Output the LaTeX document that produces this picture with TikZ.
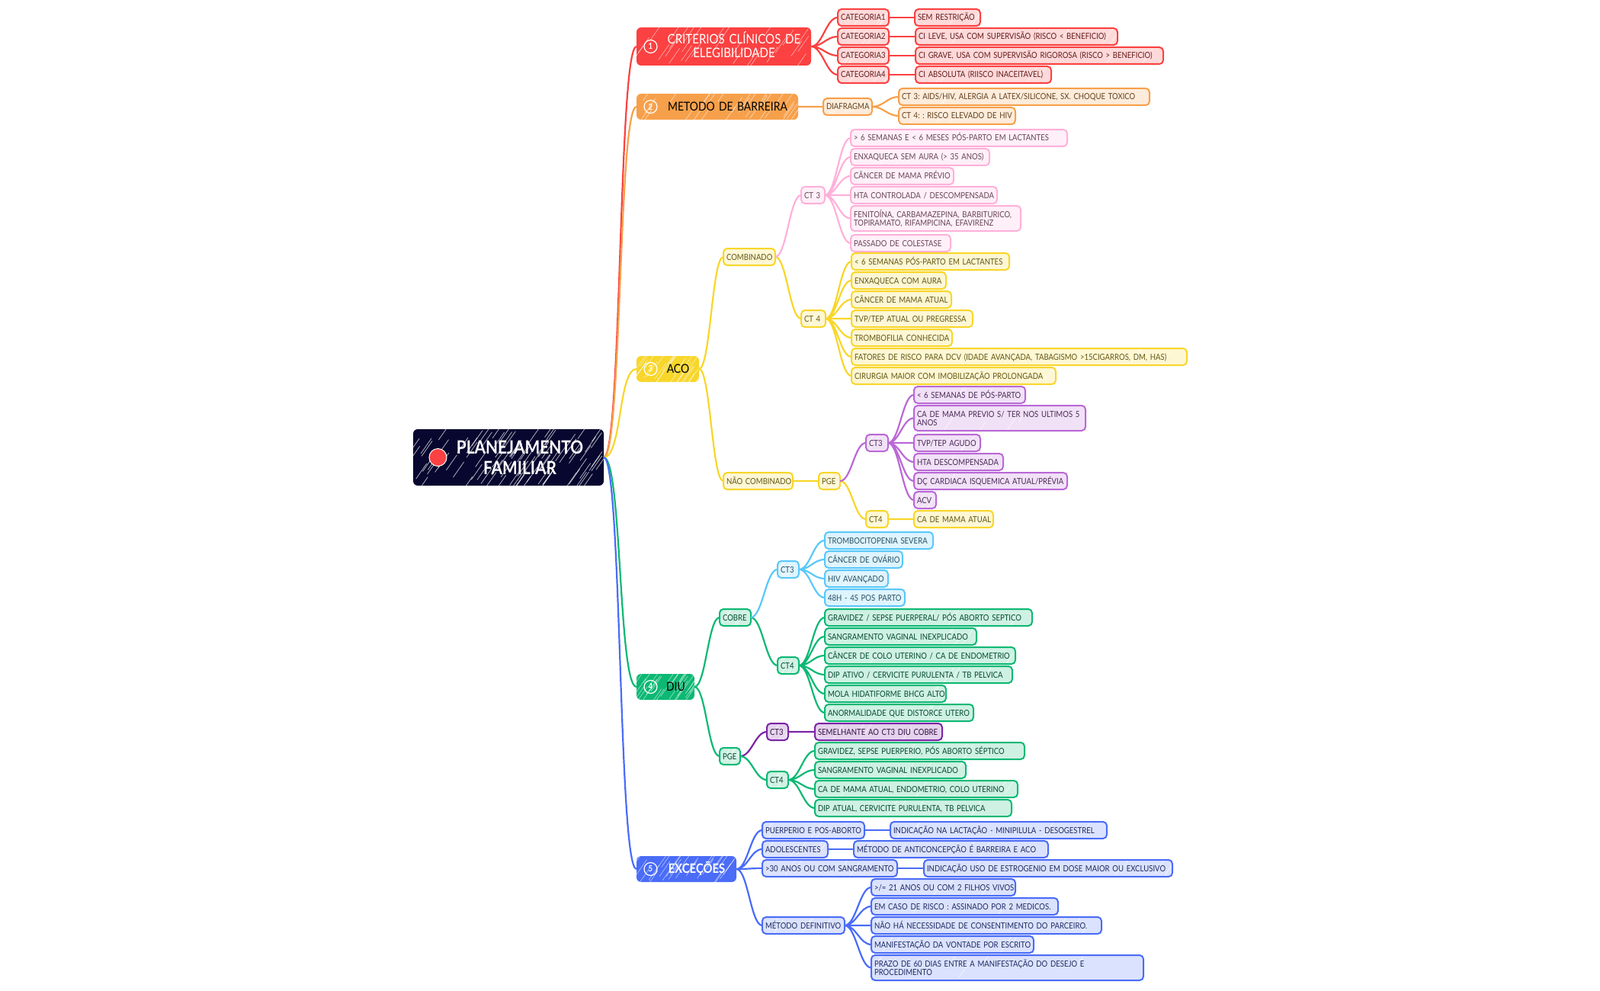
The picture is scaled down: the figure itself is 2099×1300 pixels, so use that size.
\documentclass[tikz,border=0pt]{standalone}
\usepackage{fontspec}
\setmainfont{Lato}[FakeStretch=0.87]
\usetikzlibrary{positioning, calc}
\usepackage{xcolor}
\definecolor{navy}{HTML}{07072F}
\definecolor{cred}{HTML}{FB4141}
\definecolor{corange}{HTML}{F7A04B}
\definecolor{cpink}{HTML}{FFB0DA}
\definecolor{cyellow}{HTML}{F8D62A}
\definecolor{cviolet}{HTML}{BA68D6}
\definecolor{cdeep}{HTML}{7B24A6}
\definecolor{csky}{HTML}{5AC8FA}
\definecolor{cgreen}{HTML}{0CB873}
\definecolor{cblue}{HTML}{4A6CF7}

% white sketch streaks, clipped to the box
\newcommand{\sketchstreaks}[3]{%
  \coordinate (hsw) at (path picture bounding box.south west);
  \coordinate (hne) at (path picture bounding box.north east);
  \foreach \hi in {1,...,#1}{
    \pgfmathsetmacro\hx{rnd}
    \pgfmathsetmacro\hy{rnd}
    \coordinate (hp) at ($(hsw)!\hx!(hne)$);
    \coordinate (hq) at ($(hsw)!\hy!(hne)$);
    \draw[white, opacity=#3, line width=#2] ($(hp |- hq)+(-6,-9)$) -- ++(14,20);
  }}

\begin{document}
\frenchspacing
\begin{tikzpicture}[
    x=1pt, y=1pt,
    every node/.style={font=\fontsize{11}{11}\selectfont, outer sep=0pt},
    boxw/.style={text width=#1pt-8pt},
    tint/.style={draw=#1, fill=#1!20!white, text=#1!40!black},
    leaf/.style={rounded corners=5pt, line width=2pt, minimum height=22pt, inner xsep=4pt, inner ysep=2pt,
        text height=8pt, text depth=0pt,
        execute at begin node={\rightskip=-100pt plus 1fil\parfillskip=0pt\hyphenpenalty=10000},
        path picture={\sketchstreaks{5}{.7pt}{.7}}},
    twolines/.style={minimum height=33pt, text depth=11pt},
    stacked/.style={below=3pt of #1.south west, anchor=north west},
    rootbox/.style={rounded corners=6pt, fill=navy, text=white, minimum height=74pt, text width=230pt, inner sep=10pt,
        font=\fontsize{24}{27}\selectfont\bfseries, text height=18pt, text depth=27pt,
        execute at begin node={\leftskip=30pt plus 1fil\rightskip=0pt plus 1fil\parfillskip=0pt},
        path picture={\sketchstreaks{90}{.7pt}{.75}}},
    topic/.style={rounded corners=6pt, fill=#1, text=black, minimum height=34pt, inner xsep=10pt, inner ysep=2pt,
        font=\fontsize{16}{18}\selectfont, text height=11.5pt, text depth=0pt,
        execute at begin node={\leftskip=27pt plus 1fil\rightskip=0pt plus 1fil\parfillskip=0pt},
        path picture={\sketchstreaks{30}{.6pt}{.6}}},
    topicw/.style={text width=#1pt-20pt},
    badge/.style={circle, draw=white, line width=1.2pt, text=white, minimum size=17pt, inner sep=0pt,
        font=\fontsize{11}{11}\selectfont\bfseries},
    link/.style={draw=#1, line width=2.2pt, out=0, in=180, distance=15pt},
    trunk/.style={draw=#1, line width=2.2pt, out=0, in=180, distance=24pt},
]
\useasboundingbox (0,0) rectangle (2099,-1300);

% root and the five main topics
\node[rootbox] (root) at (667,-600) {PLANEJAMENTO\par FAMILIAR};
\node[circle, fill=cred, draw=white, line width=1pt, minimum size=23pt, inner sep=0pt, right=21pt of root.west] (rootdot) {};

\node[topic=cred, topicw=229, right=43pt of root, yshift=539pt, text=white, text depth=18pt, minimum height=50pt, font=\fontsize{17.3}{18}\selectfont] (crit) {CRITERIOS CLÍNICOS DE\par ELEGIBILIDADE};
\node[topic=corange, topicw=212, right=43pt of root, yshift=460pt] (barrier) {METODO DE BARREIRA};
\node[topic=cyellow, topicw=82, right=43pt of root, yshift=116pt] (aco) {ACO};
\node[topic=cgreen, topicw=76, right=43pt of root, yshift=-301pt] (diu) {DIU};
\node[topic=cblue, topicw=131, right=43pt of root, yshift=-540pt, text=white, font=\fontsize{17}{18}\selectfont\bfseries] (exc) {EXCEÇÕES};

\node[badge, right=10pt of crit.west] (num1) {1};
\node[badge, right=10pt of barrier.west] (num2) {2};
\node[badge, right=10pt of aco.west] (num3) {3};
\node[badge, right=10pt of diu.west] (num4) {4};
\node[badge, right=10pt of exc.west] (num5) {5};

% criterios
\node[leaf, tint=cred, boxw=67, right=35pt of crit, yshift=38pt] (cat1) {CATEGORIA1};
\node[leaf, tint=cred, boxw=67, stacked=cat1] (cat2) {CATEGORIA2};
\node[leaf, tint=cred, boxw=67, stacked=cat2] (cat3) {CATEGORIA3};
\node[leaf, tint=cred, boxw=67, stacked=cat3] (cat4) {CATEGORIA4};
\node[leaf, tint=cred, boxw=86, right=34pt of cat1] (semres) {SEM RESTRIÇÃO};
\node[leaf, tint=cred, boxw=265, right=35pt of cat2] (cileve) {CI LEVE, USA COM SUPERVISÃO (RISCO < BENEFICIO)};
\node[leaf, tint=cred, boxw=325, right=35pt of cat3] (cigrave) {CI GRAVE, USA COM SUPERVISÃO RIGOROSA (RISCO > BENEFICIO)};
\node[leaf, tint=cred, boxw=178, right=35pt of cat4] (ciabs) {CI ABSOLUTA (RIISCO INACEITAVEL)};

% barreira
\node[leaf, tint=corange, boxw=64, right=33pt of barrier] (diaf) {DIAFRAGMA};
\node[leaf, tint=corange, boxw=329, right=35pt of diaf, yshift=13pt] (aids) {CT 3: AIDS/HIV, ALERGIA A LATEX/SILICONE, SX. CHOQUE TOXICO};
\node[leaf, tint=corange, boxw=153, stacked=aids] (riscohiv) {CT 4: : RISCO ELEVADO DE HIV};

% aco combinado
\node[leaf, tint=cyellow, boxw=68, right=32pt of aco, yshift=147pt] (comb) {COMBINADO};
\node[leaf, tint=cpink, boxw=31, right=34pt of comb, yshift=81pt] (ctpink) {CT 3};
\node[leaf, tint=cyellow, boxw=32, right=34pt of comb, yshift=-81pt] (ctyel) {CT 4};

\node[leaf, tint=cpink, boxw=284, right=34pt of ctpink, yshift=75pt] (pk1) {> 6 SEMANAS E < 6 MESES PÓS-PARTO EM LACTANTES};
\node[leaf, tint=cpink, boxw=182, stacked=pk1] (pk2) {ENXAQUECA SEM AURA (> 35 ANOS)};
\node[leaf, tint=cpink, boxw=135, stacked=pk2] (pk3) {CÂNCER DE MAMA PRÉVIO};
\node[leaf, tint=cpink, boxw=192, stacked=pk3] (pk4) {HTA CONTROLADA / DESCOMPENSADA};
\node[leaf, twolines, tint=cpink, boxw=223, stacked=pk4] (pk5) {FENITOÍNA, CARBAMAZEPINA, BARBITURICO,\\TOPIRAMATO, RIFAMPICINA, EFAVIRENZ};
\node[leaf, tint=cpink, boxw=131, stacked=pk5, yshift=-2pt] (pk6) {PASSADO DE COLESTASE};

\node[leaf, tint=cyellow, boxw=207, right=34pt of ctyel, yshift=75pt] (yl1) {< 6 SEMANAS PÓS-PARTO EM LACTANTES};
\node[leaf, tint=cyellow, boxw=124, stacked=yl1] (yl2) {ENXAQUECA COM AURA};
\node[leaf, tint=cyellow, boxw=131, stacked=yl2] (yl3) {CÂNCER DE MAMA ATUAL};
\node[leaf, tint=cyellow, boxw=159, stacked=yl3] (yl4) {TVP/TEP ATUAL OU PREGRESSA};
\node[leaf, tint=cyellow, boxw=132, stacked=yl4] (yl5) {TROMBOFILIA CONHECIDA};
\node[leaf, tint=cyellow, boxw=440, stacked=yl5] (yl6) {FATORES DE RISCO PARA DCV (IDADE AVANÇADA, TABAGISMO >15CIGARROS, DM, HAS)};
\node[leaf, tint=cyellow, boxw=268, stacked=yl6] (yl7) {CIRURGIA MAIOR COM IMOBILIZAÇÃO PROLONGADA};

% aco nao combinado
\node[leaf, tint=cyellow, boxw=91, right=32pt of aco, yshift=-147pt] (naocomb) {NÃO COMBINADO};
\node[leaf, tint=cyellow, boxw=28, right=34pt of naocomb] (pgeaco) {PGE};
\node[leaf, tint=cviolet, boxw=29, right=34pt of pgeaco, yshift=50pt] (ctvio) {CT3};
\node[leaf, tint=cyellow, boxw=29, right=34pt of pgeaco, yshift=-50pt] (ctyelb) {CT4};

\node[leaf, tint=cviolet, boxw=146, right=34pt of ctvio, yshift=63pt] (vi1) {< 6 SEMANAS DE PÓS-PARTO};
\node[leaf, twolines, tint=cviolet, boxw=225, stacked=vi1] (vi2) {CA DE MAMA PREVIO S/ TER NOS ULTIMOS 5\\ANOS};
\node[leaf, tint=cviolet, boxw=87, stacked=vi2, yshift=-2pt] (vi3) {TVP/TEP AGUDO};
\node[leaf, tint=cviolet, boxw=117, stacked=vi3] (vi4) {HTA DESCOMPENSADA};
\node[leaf, tint=cviolet, boxw=201, stacked=vi4] (vi5) {DÇ CARDIACA ISQUEMICA ATUAL/PRÉVIA};
\node[leaf, tint=cviolet, boxw=29, stacked=vi5] (vi6) {ACV};
\node[leaf, tint=cyellow, boxw=104, right=34pt of ctyelb] (camama) {CA DE MAMA ATUAL};

% diu cobre
\node[leaf, tint=cgreen, boxw=41, right=33pt of diu, yshift=91pt] (cobre) {COBRE};
\node[leaf, tint=csky, boxw=28, right=35pt of cobre, yshift=63pt] (ctsky) {CT3};
\node[leaf, tint=cgreen, boxw=28, right=35pt of cobre, yshift=-63pt] (ctgrn) {CT4};

\node[leaf, tint=csky, boxw=142, right=34pt of ctsky, yshift=38pt] (sk1) {TROMBOCITOPENIA SEVERA};
\node[leaf, tint=csky, boxw=102, stacked=sk1] (sk2) {CÂNCER DE OVÁRIO};
\node[leaf, tint=csky, boxw=83, stacked=sk2] (sk3) {HIV AVANÇADO};
\node[leaf, tint=csky, boxw=105, stacked=sk3] (sk4) {48H - 4S POS PARTO};

\node[leaf, tint=cgreen, boxw=272, right=34pt of ctgrn, yshift=63pt] (gr1) {GRAVIDEZ / SEPSE PUERPERAL/ PÓS ABORTO SEPTICO};
\node[leaf, tint=cgreen, boxw=199, stacked=gr1] (gr2) {SANGRAMENTO VAGINAL INEXPLICADO};
\node[leaf, tint=cgreen, boxw=250, stacked=gr2] (gr3) {CÂNCER DE COLO UTERINO / CA DE ENDOMETRIO};
\node[leaf, tint=cgreen, boxw=246, stacked=gr3] (gr4) {DIP ATIVO / CERVICITE PURULENTA / TB PELVICA};
\node[leaf, tint=cgreen, boxw=159, stacked=gr4] (gr5) {MOLA HIDATIFORME BHCG ALTO};
\node[leaf, tint=cgreen, boxw=195, stacked=gr5] (gr6) {ANORMALIDADE QUE DISTORCE UTERO};

% diu pge
\node[leaf, tint=cgreen, boxw=27, right=33pt of diu, yshift=-91pt] (pgediu) {PGE};
\node[leaf, tint=cdeep, boxw=28, right=35pt of pgediu, yshift=32pt] (ctdeep) {CT3};
\node[leaf, tint=cgreen, boxw=28, right=35pt of pgediu, yshift=-31pt] (ctgrnb) {CT4};
\node[leaf, tint=cdeep, boxw=167, right=35pt of ctdeep] (semel) {SEMELHANTE AO CT3 DIU COBRE};

\node[leaf, tint=cgreen, boxw=275, right=35pt of ctgrnb, yshift=38pt] (gb1) {GRAVIDEZ, SEPSE PUERPERIO, PÓS ABORTO SÉPTICO};
\node[leaf, tint=cgreen, boxw=198, stacked=gb1] (gb2) {SANGRAMENTO VAGINAL INEXPLICADO};
\node[leaf, tint=cgreen, boxw=266, stacked=gb2] (gb3) {CA DE MAMA ATUAL, ENDOMETRIO, COLO UTERINO};
\node[leaf, tint=cgreen, boxw=258, stacked=gb3] (gb4) {DIP ATUAL, CERVICITE PURULENTA, TB PELVICA};

% excecoes
\node[leaf, tint=cblue, boxw=134, right=34pt of exc, yshift=51pt] (puer) {PUERPERIO E POS-ABORTO};
\node[leaf, tint=cblue, boxw=86, stacked=puer] (adol) {ADOLESCENTES};
\node[leaf, tint=cblue, boxw=177, stacked=adol] (trinta) {>30 ANOS OU COM SANGRAMENTO};
\node[leaf, tint=cblue, boxw=108, right=34pt of exc, yshift=-74pt] (metdef) {MÉTODO DEFINITIVO};
\node[leaf, tint=cblue, boxw=284, right=34pt of puer] (minipil) {INDICAÇÃO NA LACTAÇÃO - MINIPILULA - DESOGESTREL};
\node[leaf, tint=cblue, boxw=255, right=34pt of adol] (anticon) {MÉTODO DE ANTICONCEPÇÃO É BARREIRA E ACO};
\node[leaf, tint=cblue, boxw=326, right=35pt of trinta] (estrog) {INDICAÇÃO USO DE ESTROGENIO EM DOSE MAIOR OU EXCLUSIVO};

\node[leaf, tint=cblue, boxw=189, right=35pt of metdef, yshift=50pt] (bl1) {>/= 21 ANOS OU COM 2 FILHOS VIVOS};
\node[leaf, tint=cblue, boxw=245, stacked=bl1] (bl2) {EM CASO DE RISCO : ASSINADO POR 2 MEDICOS.};
\node[leaf, tint=cblue, boxw=302, stacked=bl2] (bl3) {NÃO HÁ NECESSIDADE DE CONSENTIMENTO DO PARCEIRO.};
\node[leaf, tint=cblue, boxw=213, stacked=bl3] (bl4) {MANIFESTAÇÃO DA VONTADE POR ESCRITO};
\node[leaf, twolines, tint=cblue, boxw=357, stacked=bl4] (bl5) {PRAZO DE 60 DIAS ENTRE A MANIFESTAÇÃO DO DESEJO E\\PROCEDIMENTO};

% connectors
\draw[trunk=cred] (root) to (crit);
\draw[trunk=corange] (root) to (barrier);
\draw[trunk=cyellow] (root) to (aco);
\draw[trunk=cgreen] (root) to (diu);
\draw[trunk=cblue] (root) to (exc);

\draw[link=cred] (crit) to (cat1) (crit) to (cat2) (crit) to (cat3) (crit) to (cat4);
\draw[link=cred] (cat1) to (semres) (cat2) to (cileve) (cat3) to (cigrave) (cat4) to (ciabs);

\draw[link=corange] (barrier) to (diaf) (diaf) to (aids) (diaf) to (riscohiv);

\draw[link=cyellow] (aco) to (comb) (aco) to (naocomb) (comb) to (ctyel);
\draw[link=cpink] (comb) to (ctpink);
\draw[link=cpink] (ctpink) to (pk1) (ctpink) to (pk2) (ctpink) to (pk3) (ctpink) to (pk4) (ctpink) to (pk5) (ctpink) to (pk6);
\draw[link=cyellow] (ctyel) to (yl1) (ctyel) to (yl2) (ctyel) to (yl3) (ctyel) to (yl4) (ctyel) to (yl5) (ctyel) to (yl6) (ctyel) to (yl7);

\draw[link=cyellow] (naocomb) to (pgeaco) (pgeaco) to (ctyelb) (ctyelb) to (camama);
\draw[link=cviolet] (pgeaco) to (ctvio);
\draw[link=cviolet] (ctvio) to (vi1) (ctvio) to (vi2) (ctvio) to (vi3) (ctvio) to (vi4) (ctvio) to (vi5) (ctvio) to (vi6);

\draw[link=cgreen] (diu) to (cobre) (diu) to (pgediu) (cobre) to (ctgrn);
\draw[link=csky] (cobre) to (ctsky);
\draw[link=csky] (ctsky) to (sk1) (ctsky) to (sk2) (ctsky) to (sk3) (ctsky) to (sk4);
\draw[link=cgreen] (ctgrn) to (gr1) (ctgrn) to (gr2) (ctgrn) to (gr3) (ctgrn) to (gr4) (ctgrn) to (gr5) (ctgrn) to (gr6);

\draw[link=cdeep] (pgediu) to (ctdeep) (ctdeep) to (semel);
\draw[link=cgreen] (pgediu) to (ctgrnb);
\draw[link=cgreen] (ctgrnb) to (gb1) (ctgrnb) to (gb2) (ctgrnb) to (gb3) (ctgrnb) to (gb4);

\draw[link=cblue] (exc) to (puer) (exc) to (adol) (exc) to (trinta) (exc) to (metdef);
\draw[link=cblue] (puer) to (minipil) (adol) to (anticon) (trinta) to (estrog);
\draw[link=cblue] (metdef) to (bl1) (metdef) to (bl2) (metdef) to (bl3) (metdef) to (bl4) (metdef) to (bl5);

\end{tikzpicture}
\end{document}
